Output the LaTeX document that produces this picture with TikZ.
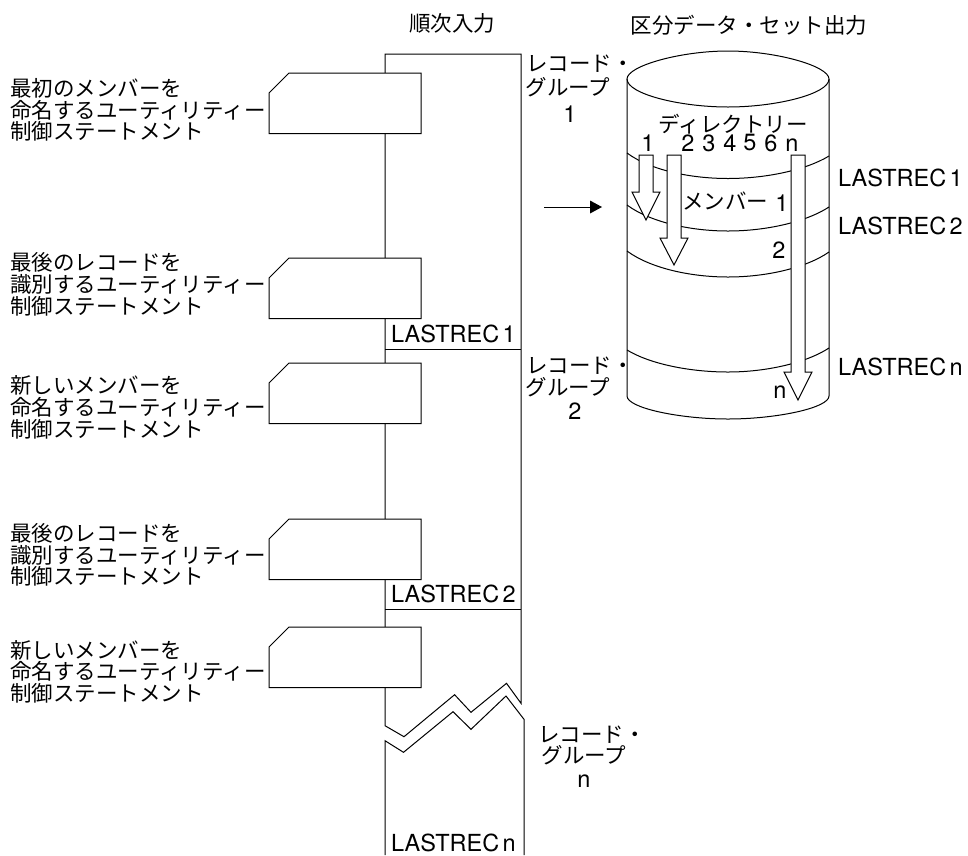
\documentclass[tikz,border=0pt]{standalone}
\usepackage{fontspec}
\setmainfont{TeX Gyre Heros}
\newfontfamily\jp{Noto Sans CJK JP}[Scale=1]
\newcommand{\lr}[1]{{\fontsize{23.5}{23.5}\selectfont LASTREC\hspace{3.5pt}#1}}
\setlength{\lineskiplimit}{-100pt}
\tikzset{
  line/.style={draw=black,line width=1pt,line join=miter},
  stmt/.style={draw=black,fill=white,line width=1pt},
  fat/.style={draw=black,fill=white,line width=1pt},
  jlabel/.style={inner sep=0pt,align=left,anchor=west,font=\jp\fontsize{21.5}{21.7}\selectfont},
  clabel/.style={inner sep=0pt,align=center,font=\jp\fontsize{21.5}{21.5}\selectfont},
  num/.style={inner sep=0pt,font=\fontsize{23.5}{23.5}\selectfont},
  rec/.style={inner sep=0pt,anchor=west}
}
\newcommand{\stmtbox}[1]{\path[stmt] (269,#1+20) -- (289,#1) -- (421,#1) -- (421,#1+60.5) -- (269,#1+60.5) -- cycle;}
\newcommand{\fatarrow}[4]{\path[fat] (#1-7,#2) -- (#1+7,#2) -- (#1+7,#3) -- (#1+14,#3) -- (#1,#4) -- (#1-14,#3) -- (#1-7,#3) -- cycle;}
\begin{document}
\begin{tikzpicture}[x=1pt,y=-1pt]
\useasboundingbox (0,0) rectangle (968,855);
% main sequential input
\draw[line] (385,725.7) -- (385,54) -- (521,54) -- (521,703.3) -- (506.5,683.3) -- (471,712.3) -- (454.6,694.7) -- (404,736.7) -- cycle;
\draw[line] (385,855) -- (385,740.7) -- (403.5,752.3) -- (453,711.7) -- (471,729.3) -- (506,696) -- (524,719.3) -- (524,855);
\draw[line] (385,349) -- (521,349);
\draw[line] (385,609) -- (521,609);
\stmtbox{73}
\stmtbox{258}
\stmtbox{363}
\stmtbox{519}
\stmtbox{627}
\node[jlabel] (t1) at (10,110) {最初のメンバーを\\命名するユーティリティー\\制御ステートメント};
\node[jlabel] (t2) at (10,284.5) {最後のレコードを\\識別するユーティリティー\\制御ステートメント};
\node[jlabel] (t3) at (10,407.5) {新しいメンバーを\\命名するユーティリティー\\制御ステートメント};
\node[jlabel] (t4) at (10,555) {最後のレコードを\\識別するユーティリティー\\制御ステートメント};
\node[jlabel] (t5) at (10,671.7) {新しいメンバーを\\命名するユーティリティー\\制御ステートメント};
\node[rec] (r1) at (391,334) {\lr{1}};
\node[rec] (r2) at (391,594) {\lr{2}};
\node[rec] (r3) at (391,842.7) {\lr{n}};
% headings
\node[clabel] (h1) at (452,23) {順次入力};
\node[clabel] (h2) at (749,25) {区分データ・セット出力};
% groups
\node[clabel] (g1) at (580,64) {レコード・};
\node[clabel] (g1b) at (568,87) {グループ};
\node[num] (g1c) at (570,114) {1};
\node[clabel] (g2) at (580,366) {レコード・};
\node[clabel] (g2b) at (568,387) {グループ};
\node[num] (g2c) at (575,411) {2};
\node[clabel] (g3) at (592,735) {レコード・};
\node[clabel] (g3b) at (584,755) {グループ};
\node[num] (g3c) at (584,781) {n};
% cylinder
\draw[line,fill=white] (627,79) -- (627,396) .. controls (627,408) and (680,419) .. (728,419) .. controls (776,419) and (829,408) .. (829,396) -- (829,79);
\draw[line] (627,79) .. controls (627,66) and (680,51) .. (728,51) .. controls (776,51) and (829,66) .. (829,79) .. controls (829,94) and (776,107) .. (728,107) .. controls (680,107) and (627,94) .. (627,79) -- cycle;
\draw[line] (627,153) .. controls (650,170) and (690,178.5) .. (728,178.5) .. controls (766,178.5) and (806,170) .. (829,156);
\draw[line] (627,205) .. controls (650,222) and (690,231) .. (728,231) .. controls (766,231) and (806,222) .. (829,207);
\draw[line] (627,251) .. controls (650,268) and (690,277) .. (728,277) .. controls (766,277) and (806,268) .. (829,252);
\draw[line] (627,350) .. controls (650,364) and (690,372) .. (728,372) .. controls (766,372) and (806,363) .. (829,348);
% fat arrows
\fatarrow{646}{155}{192}{220}
\fatarrow{674}{155}{238}{265}
\fatarrow{798}{155}{372}{400}
% horizontal arrow
\coordinate (a0) at (544,207);
\coordinate (a1) at (602,207);
\draw[line width=0.9pt] (a0) -- (590,207);
\path[fill=black] (a1) -- (590,200.5) -- (590,213.5) -- cycle;
% cylinder labels
\node[clabel] (d) at (733,124) {ディレクトリー};
\node[num] (n1) at (648,143) {1};
\node[num] (n2) at (688,143) {2};
\node[num] (n3) at (709,143) {3};
\node[num] (n4) at (730,143) {4};
\node[num] (n5) at (750,143) {5};
\node[num] (n6) at (771,143) {6};
\node[num] (n7) at (792,145) {n};
\node[clabel] (m) at (725,201) {メンバー};
\node[num] (m1) at (782,203) {1};
\node[num] (m2) at (779,250) {2};
\node[num] (mn) at (780,392) {n};
\node[rec] (l1) at (838,178) {\lr{1}};
\node[rec] (l2) at (838,226) {\lr{2}};
\node[rec] (l3) at (838,367) {\lr{n}};
\end{tikzpicture}
\end{document}
